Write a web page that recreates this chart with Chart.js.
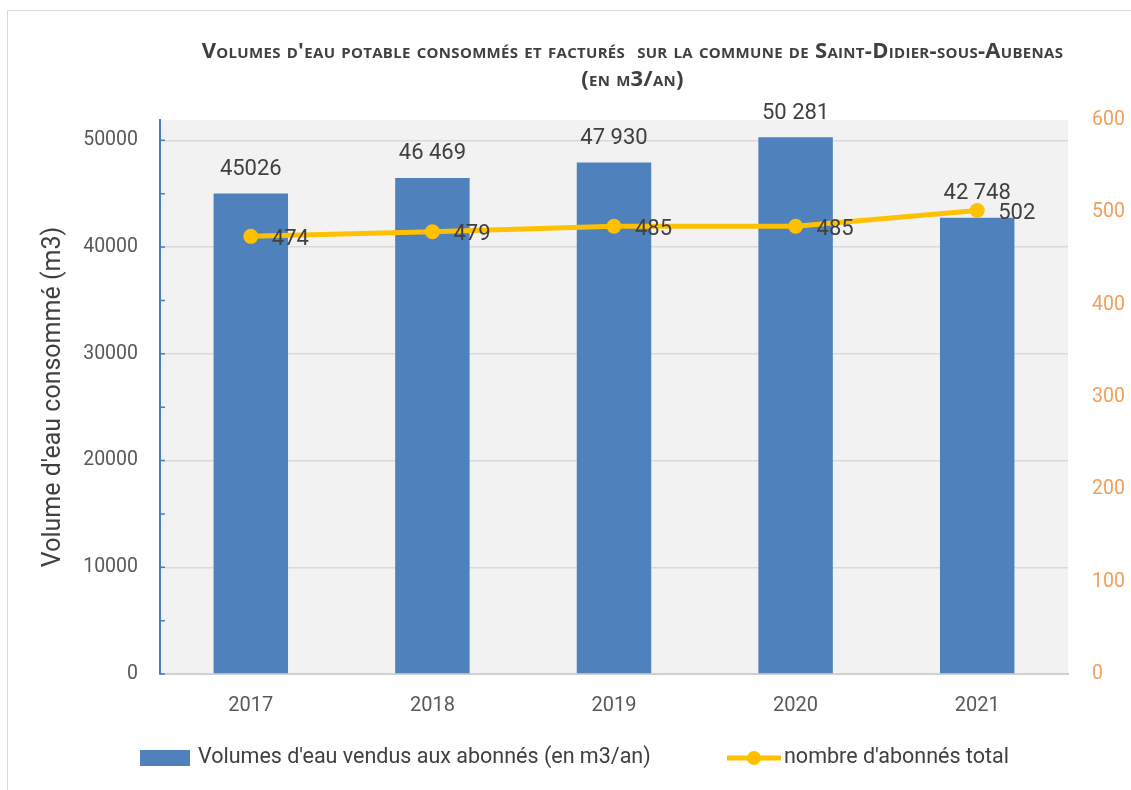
<!DOCTYPE html>
<html>
<head>
<meta charset="utf-8">
<script src="https://cdn.jsdelivr.net/npm/chart.js@4.4.1/dist/chart.umd.min.js"></script>
<style>
  html, body { margin: 0; padding: 0; background: #ffffff; }
  #wrap { position: relative; width: 1131px; height: 790px; overflow: hidden; }
  #frame { position: absolute; left: 7px; top: 10px; width: 1140px; height: 800px; border: 1px solid #d9d9d9; box-sizing: border-box; }
  #c { position: absolute; left: 0; top: 0; }
  #title { position: absolute; left: 150px; width: 965px; top: 35px; text-align: center;
           font-family: "Open Sans", sans-serif; font-weight: bold; font-variant: small-caps;
           font-size: 22px; line-height: 28px; color: #404040; white-space: nowrap; letter-spacing: 0.3px; }
</style>
</head>
<body>
<div id="wrap">
  <div id="frame"></div>
  <canvas id="c" width="1131" height="790"></canvas>
  <div id="title">Volumes d'eau potable consommés et facturés &nbsp;sur la commune de Saint-Didier-sous-Aubenas<br>(en m3/an)</div>
</div>
<script>
// ---- data ----
const categories = ['2017', '2018', '2019', '2020', '2021'];
const volumes = [45026, 46469, 47930, 50281, 42748];
const volumeLabels = ['45026', '46 469', '47 930', '50 281', '42 748'];
const abonnes = [474, 479, 485, 485, 502];
const leftTicks = [0, 10000, 20000, 30000, 40000, 50000];
const leftMinorTicks = [5000, 15000, 25000, 35000, 45000];
const rightTicks = [0, 100, 200, 300, 400, 500, 600];
const seriesNames = ["Volumes d'eau vendus aux abonnés (en m3/an)", "nombre d'abonnés total"];
const yTitle = "Volume d'eau consommé (m3)";

const FONT = 'Roboto, "Open Sans", sans-serif';
const BAR_COLOR = '#4f81bd';
const LINE_COLOR = '#ffc000';
const TEXT_COLOR = '#595959';
const LABEL_COLOR = '#404040';
const ORANGE = '#f0a05a';

const plotBg = {
  id: 'plotBg',
  beforeDraw(chart) {
    const {ctx, chartArea: a} = chart;
    ctx.save();
    ctx.fillStyle = '#f2f2f2';
    ctx.fillRect(a.left, a.top, a.right - a.left, a.bottom - a.top);
    ctx.restore();
  },
  afterDatasetsDraw(chart) {
    const {ctx} = chart;
    const ys = chart.scales.y;
    ctx.save();
    ctx.strokeStyle = '#4a7ebb';
    ctx.lineWidth = 1.5;
    ctx.beginPath();
    leftTicks.concat(leftMinorTicks).forEach(v => {
      const py = ys.getPixelForValue(v);
      ctx.moveTo(ys.right, py);
      ctx.lineTo(ys.right + 5, py);
    });
    ctx.stroke();
    ctx.restore();
  }
};

const dataLabels = {
  id: 'dataLabels',
  afterDatasetsDraw(chart) {
    const {ctx} = chart;
    ctx.save();
    ctx.font = '22px ' + FONT;
    ctx.fillStyle = LABEL_COLOR;
    ctx.textBaseline = 'middle';
    const barMeta = chart.getDatasetMeta(0);
    ctx.textAlign = 'center';
    barMeta.data.forEach((el, i) => {
      ctx.fillText(volumeLabels[i], el.x, el.y - 24);
    });
    const lineMeta = chart.getDatasetMeta(1);
    ctx.textAlign = 'left';
    lineMeta.data.forEach((el, i) => {
      ctx.fillText(String(abonnes[i]), el.x + 21, el.y + 3);
    });
    ctx.restore();
  }
};

const customLegend = {
  id: 'customLegend',
  afterDraw(chart) {
    const {ctx} = chart;
    const y = 758;
    ctx.save();
    ctx.font = '21.5px ' + FONT;
    ctx.textBaseline = 'middle';
    ctx.textAlign = 'left';
    ctx.fillStyle = BAR_COLOR;
    ctx.fillRect(140, y - 8, 50, 16);
    ctx.fillStyle = LABEL_COLOR;
    ctx.fillText(chart.data.datasets[0].label, 198, y);
    ctx.strokeStyle = LINE_COLOR;
    ctx.lineWidth = 5;
    ctx.beginPath();
    ctx.moveTo(727, y);
    ctx.lineTo(781, y);
    ctx.stroke();
    ctx.fillStyle = LINE_COLOR;
    ctx.beginPath();
    ctx.arc(754, y, 7, 0, Math.PI * 2);
    ctx.fill();
    ctx.fillStyle = LABEL_COLOR;
    ctx.fillText(chart.data.datasets[1].label, 784, y);
    ctx.restore();
  }
};

new Chart(document.getElementById('c'), {
  data: {
    labels: categories,
    datasets: [
      {
        type: 'bar',
        label: seriesNames[0],
        data: volumes,
        yAxisID: 'y',
        backgroundColor: BAR_COLOR,
        barPercentage: 0.82,
        categoryPercentage: 0.5,
        order: 2
      },
      {
        type: 'line',
        label: seriesNames[1],
        data: abonnes,
        yAxisID: 'y1',
        borderColor: LINE_COLOR,
        backgroundColor: LINE_COLOR,
        borderWidth: 5,
        pointRadius: 7.5,
        pointBackgroundColor: LINE_COLOR,
        pointBorderWidth: 0,
        tension: 0,
        order: 1
      }
    ]
  },
  options: {
    responsive: false,
    animation: false,
    layout: { padding: { top: 120, left: 0, right: 0, bottom: 0 } },
    plugins: {
      legend: { display: false },
      title: { display: false },
      tooltip: { enabled: false }
    },
    scales: {
      x: {
        grid: { display: false, drawTicks: false },
        border: { display: true, color: '#d0d0d0', width: 2 },
        ticks: { color: TEXT_COLOR, font: { family: FONT, size: 20 }, padding: 20 },
        afterFit(s) { s.height = 116; }
      },
      y: {
        position: 'left',
        min: 0,
        max: 51900,
        afterBuildTicks(s) { s.ticks = leftTicks.map(v => ({ value: v })); },
        grid: { color: '#d9d9d9', lineWidth: 1.5, drawTicks: false },
        border: { display: true, color: '#4a7ebb', width: 2 },
        ticks: {
          color: TEXT_COLOR,
          font: { family: FONT, size: 19.5 },
          padding: 22,
          callback: v => String(v)
        },
        title: {
          display: true,
          text: yTitle,
          color: LABEL_COLOR,
          font: { family: FONT, size: 25 },
          padding: { top: 39, bottom: 0 }
        },
        afterFit(s) { s.width = 160; }
      },
      y1: {
        position: 'right',
        min: 0,
        max: 600,
        afterBuildTicks(s) { s.ticks = rightTicks.map(v => ({ value: v })); },
        grid: { display: false, drawTicks: false },
        border: { display: false },
        ticks: {
          color: ORANGE,
          font: { family: FONT, size: 19.5 },
          padding: 24,
          callback: v => String(v)
        },
        afterFit(s) { s.width = 63; }
      }
    }
  },
  plugins: [plotBg, dataLabels, customLegend]
});
</script>
</body>
</html>
